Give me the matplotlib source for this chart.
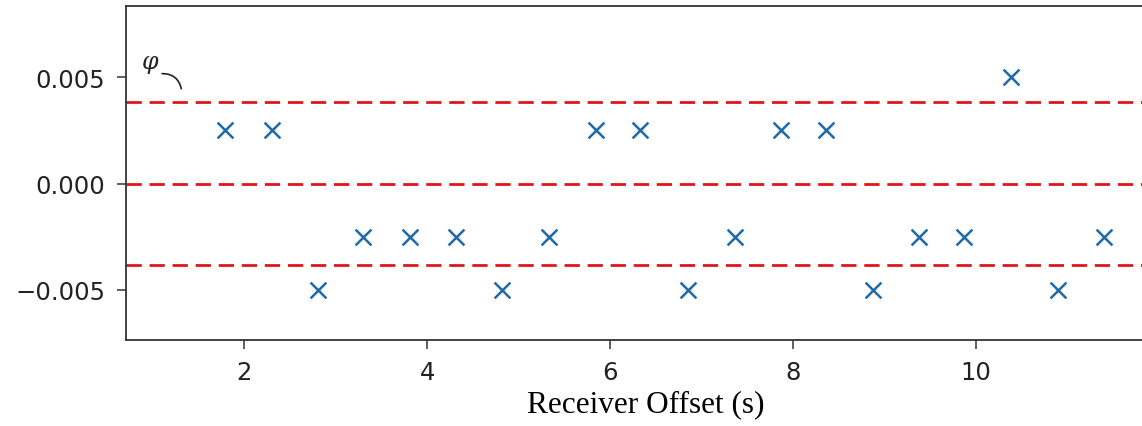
import numpy as np
import matplotlib
matplotlib.use("Agg")
import matplotlib.pyplot as plt

# receiver offsets and the measured phase deviation at each one
offsets = [1.79, 2.30, 2.80, 3.30, 3.81, 4.31, 4.82, 5.33, 5.84, 6.33,
           6.85, 7.36, 7.87, 8.36, 8.87, 9.38, 9.87, 10.38, 10.89, 11.40]
deviation = [0.0025, 0.0025, -0.005, -0.0025, -0.0025, -0.0025, -0.005, -0.0025, 0.0025, 0.0025,
             -0.005, -0.0025, 0.0025, 0.0025, -0.005, -0.0025, -0.0025, 0.005, -0.005, -0.0025]

# threshold levels (dashed red)
phi = 0.00384
levels = [phi, 0.0, -phi]

xticks = [2, 4, 6, 8, 10]
yticks = [-0.005, 0.0, 0.005]

fig = plt.figure(figsize=(11.42, 4.27), dpi=100)
ax = fig.add_axes([0.1103, 0.2015, 0.9103, 0.781])

for lv in levels:
    ax.axhline(lv, color="#e0161c", lw=2.0, dashes=(5.5, 2.8), zorder=1)

ax.scatter(offsets, deviation, marker="x", s=130, linewidths=1.8,
           color="#1f6aa5", zorder=3)

ax.set_xlim(0.705, 12.07)
ax.set_ylim(-0.00736, 0.00833)
ax.set_xticks(xticks)
ax.set_yticks(yticks)
ax.tick_params(labelsize=17.5, length=6.5, width=1.1, color="#333333", labelcolor="#222222")
ax.tick_params(axis="y", pad=8.5)
ax.tick_params(axis="x", pad=8)
for sp in ax.spines.values():
    sp.set_linewidth(1.3)
    sp.set_color("#333333")

ax.set_xlabel("Receiver Offset (s)", family="Liberation Serif", fontsize=22.5, labelpad=4)

# phi label with a curved leader to the upper threshold
ax.text(0.965, 0.00565, r"$\varphi$", fontsize=17, ha="center", va="center",
        math_fontfamily="dejavuserif", color="#222222")
ax.annotate("", xy=(1.31, 0.00446), xytext=(1.10, 0.00517),
            arrowprops=dict(arrowstyle="-", connectionstyle="arc3,rad=-0.4",
                            color="#222222", lw=1.2, shrinkA=0, shrinkB=0))

fig.savefig("out.png", dpi=100)
